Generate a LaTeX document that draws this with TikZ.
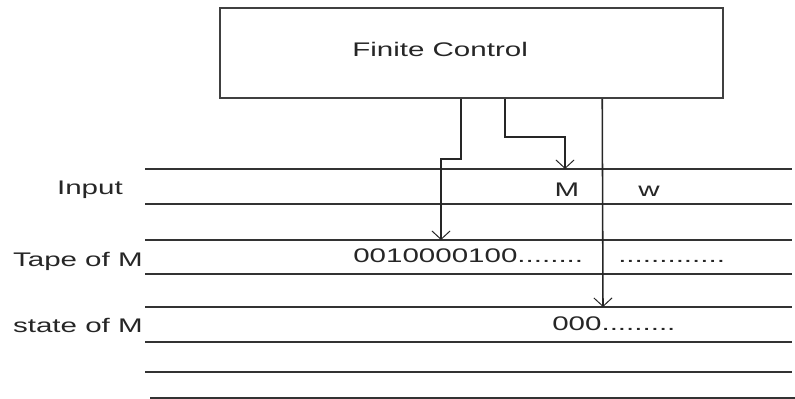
\documentclass[tikz,border=0pt]{standalone}
\usepackage{fontspec}
\newfontfamily\tmfont[FakeStretch=1.5]{Liberation Sans}
\usetikzlibrary{positioning,arrows.meta}
\def\px{0.025cm}

\begin{document}
\begin{tikzpicture}[
    x=\px, y=-\px,
    lbl/.style={font=\tmfont\fontsize{14}{16}\selectfont, inner sep=0pt, text=black!85},
    ctrl/.style={draw=black!75, line width=1.1pt, minimum width=503*\px, minimum height=90*\px, inner sep=0pt},
    tape/.style={draw=black!80, line width=0.75pt},
    arr/.style={-{Straight Barb[length=6pt,width=13pt,line width=0.7pt]}, line width=1.1pt, black!85},
]
\useasboundingbox (0,0) rectangle (795,399);

% Finite control
\node[ctrl] (fc) at (471.5,53) {};
\node[lbl, anchor=base west] (fctext) at (352,57) {Finite Control};

% Tracks of the tape
\foreach \y in {169,204,240,274,307,342,372}
  \draw[tape] (145,\y) -- (792,\y);
\draw[tape] (150,398) -- (795,398);

% Track names
\node[lbl, anchor=base east] (input) at (123,195) {Input};
\node[lbl, anchor=base east] (tapeM) at (143,267) {Tape of M};
\node[lbl, anchor=base east] (stateM) at (143,332) {state of M};

% Track contents
\node[lbl, anchor=base] (symM) at (567,197) {M};
\node[lbl, anchor=base] (symw) at (649,197) {w};
\node[lbl, anchor=base west] (tapebits) at (353,263) {0010000100........};
\node[lbl, anchor=base west] (tapedots) at (618,263) {.............};
\node[lbl, anchor=base west] (statebits) at (552,330) {000.........};

% Head positions
\coordinate (inhead) at (565,169);
\coordinate (tapehead) at (441,240);
\coordinate (statehead) at (603,307);

% Heads
\draw[arr] ([xshift=242*\px]fc.south west) -- ++(0,60) -| (tapehead);
\draw[arr] ([xshift=286*\px]fc.south west) -- ++(0,38) -| (inhead);
\draw[arr] ([xshift=383*\px]fc.south west) -- (statehead);

\end{tikzpicture}
\end{document}
